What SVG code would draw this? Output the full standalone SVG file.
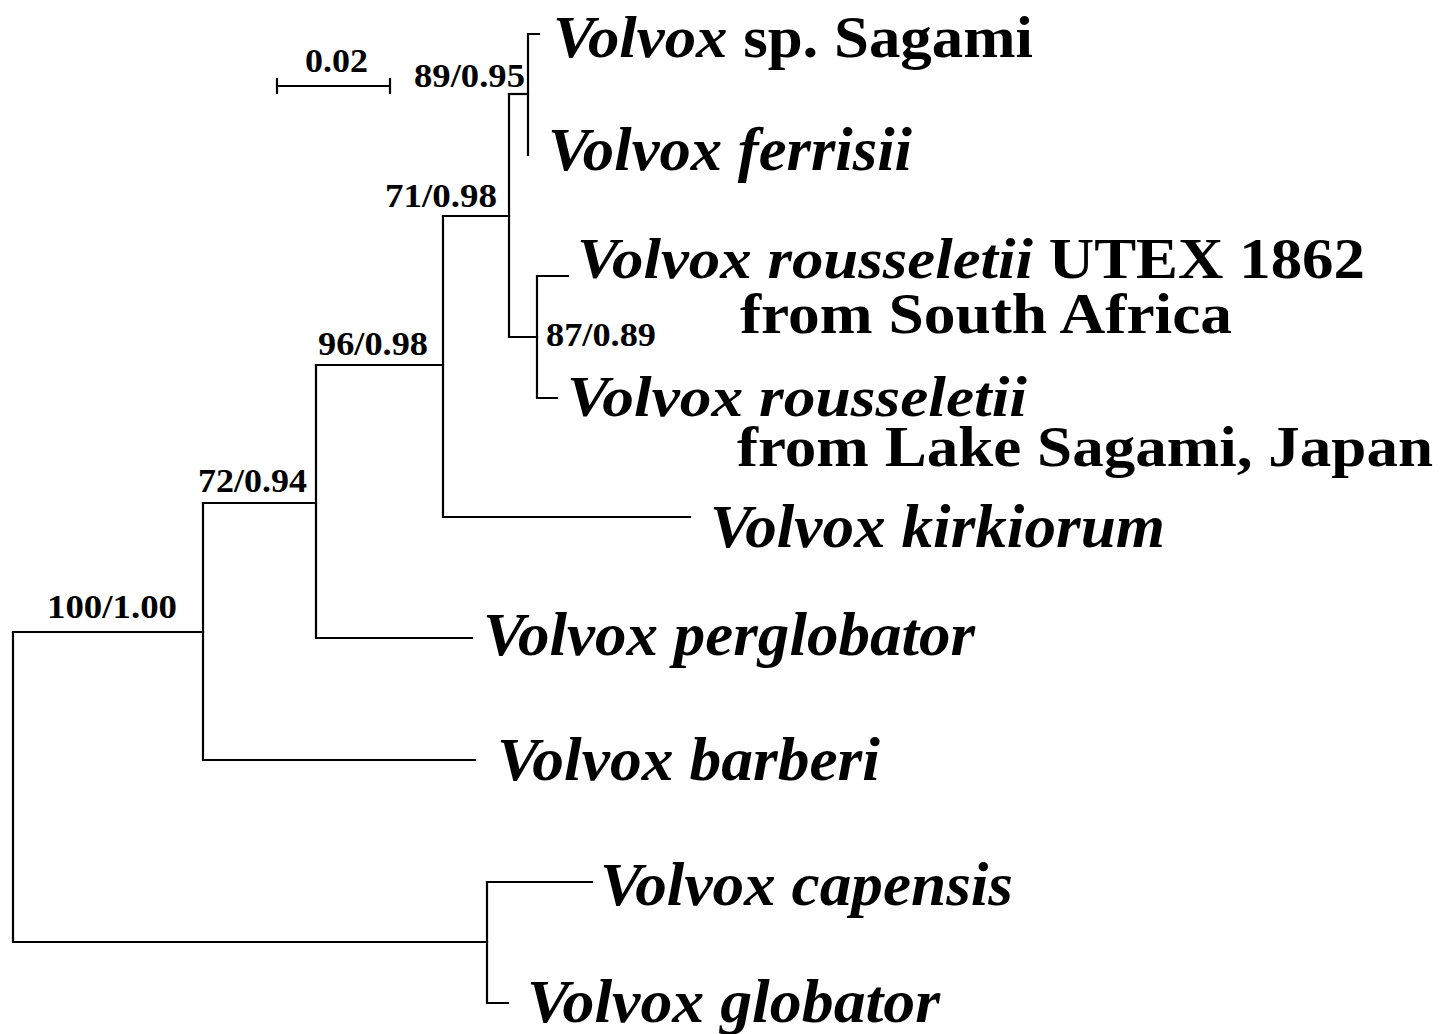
<svg xmlns="http://www.w3.org/2000/svg" width="1451" height="1034" viewBox="0 0 1451 1034">
  <style>
    .br { fill: none; stroke: #000; stroke-width: 2.2; stroke-linecap: square; }
    .sp { font-family: "Liberation Serif", "Times New Roman", serif; font-weight: bold; fill: #000; }
    .it { font-style: italic; }
    .bs { font-family: "Liberation Serif", "Times New Roman", serif; font-weight: bold; fill: #000; font-size: 34px; }
  </style>
  <rect width="1451" height="1034" fill="#fff"/>

  <!-- scale bar -->
  <g id="scale">
    <path class="br" d="M277 86 H390 M277 79 V93 M390 79 V93"/>
    <text class="bs" x="305" y="72" font-size="31" textLength="63" lengthAdjust="spacingAndGlyphs">0.02</text>
  </g>

  <!-- branches -->
  <g id="connectors">
    <path class="br" d="M13 632 V942 H487"/>
    <path class="br" d="M13 632 H203"/>
    <path class="br" d="M203 503 V760 H475"/>
    <path class="br" d="M203 503 H316"/>
    <path class="br" d="M316 365 V638 H472"/>
    <path class="br" d="M316 365 H443"/>
    <path class="br" d="M443 216 V517 H690"/>
    <path class="br" d="M443 216 H509"/>
    <path class="br" d="M509 94 V337 H537"/>
    <path class="br" d="M509 94 H528"/>
    <path class="br" d="M539 34 H528 V155"/>
    <path class="br" d="M568 276 H537 V398 H557"/>
    <path class="br" d="M487 882 V1003 H508"/>
    <path class="br" d="M487 882 H592"/>
  </g>

  <!-- support values -->
  <g id="supports">
    <text id="s100" class="bs" x="47" y="618" textLength="130" lengthAdjust="spacingAndGlyphs">100/1.00</text>
    <text id="s72" class="bs" x="198" y="492" textLength="109" lengthAdjust="spacingAndGlyphs">72/0.94</text>
    <text id="s96" class="bs" x="318" y="355" textLength="110" lengthAdjust="spacingAndGlyphs">96/0.98</text>
    <text id="s71" class="bs" x="385" y="207" textLength="112" lengthAdjust="spacingAndGlyphs">71/0.98</text>
    <text id="s89" class="bs" x="414" y="87" textLength="111" lengthAdjust="spacingAndGlyphs">89/0.95</text>
    <text id="s87" class="bs" x="546" y="346" textLength="110" lengthAdjust="spacingAndGlyphs">87/0.89</text>
  </g>

  <!-- taxa -->
  <g id="taxon-sagami-sp">
    <text class="sp" x="553" y="57" font-size="59" textLength="480" lengthAdjust="spacingAndGlyphs"><tspan class="it">Volvox</tspan> sp. Sagami</text>
  </g>
  <g id="taxon-ferrisii">
    <text class="sp it" x="548" y="170" font-size="61" textLength="364" lengthAdjust="spacingAndGlyphs">Volvox ferrisii</text>
  </g>
  <g id="taxon-rousseletii-utex">
    <text class="sp" x="577" y="278" font-size="58" textLength="788" lengthAdjust="spacingAndGlyphs"><tspan class="it">Volvox rousseletii</tspan> UTEX 1862</text>
    <text class="sp" x="740" y="333" font-size="58" textLength="492" lengthAdjust="spacingAndGlyphs">from South Africa</text>
  </g>
  <g id="taxon-rousseletii-sagami">
    <text class="sp it" x="567" y="416" font-size="58" textLength="460" lengthAdjust="spacingAndGlyphs">Volvox rousseletii</text>
    <text class="sp" x="737" y="466" font-size="58" textLength="696" lengthAdjust="spacingAndGlyphs">from Lake Sagami, Japan</text>
  </g>
  <g id="taxon-kirkiorum">
    <text class="sp it" x="710" y="547" font-size="62" textLength="455" lengthAdjust="spacingAndGlyphs">Volvox kirkiorum</text>
  </g>
  <g id="taxon-perglobator">
    <text class="sp it" x="483" y="655" font-size="62" textLength="492" lengthAdjust="spacingAndGlyphs">Volvox perglobator</text>
  </g>
  <g id="taxon-barberi">
    <text class="sp it" x="497" y="780" font-size="62" textLength="383" lengthAdjust="spacingAndGlyphs">Volvox barberi</text>
  </g>
  <g id="taxon-capensis">
    <text class="sp it" x="600" y="905" font-size="62" textLength="413" lengthAdjust="spacingAndGlyphs">Volvox capensis</text>
  </g>
  <g id="taxon-globator">
    <text class="sp it" x="527" y="1022" font-size="62" textLength="413" lengthAdjust="spacingAndGlyphs">Volvox globator</text>
  </g>
</svg>
